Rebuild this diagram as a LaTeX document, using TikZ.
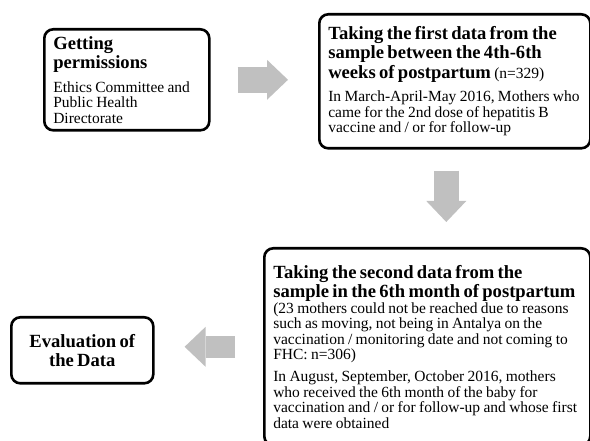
\documentclass[tikz,border=0pt]{standalone}
\usepackage{fontspec}
\setmainfont{Liberation Serif}
\usetikzlibrary{arrows.meta,positioning}

\definecolor{arrowgray}{RGB}{192,192,192}
\newcommand\headfont{\fontsize{18.6}{19.4}\selectfont\bfseries}
\newcommand\bodyfont{\fontsize{15.5}{15.6}\selectfont}

\begin{document}
\begin{tikzpicture}[x=1pt,y=1pt,
  stepbox/.style={draw,line width=2.6pt,rounded corners=9pt,anchor=north west,
    align=left,inner xsep=9pt,inner ysep=0pt},
  fatarrow/.style={draw=arrowgray,line width=25pt,
    -{Triangle[length=21pt,width=40pt,line width=0pt]}}]

\useasboundingbox (0,0) rectangle (590,441);

% Genehmigungen
\node[stepbox,text width=147pt,minimum height=101pt] (perm) at (43,413)
  {{\headfont Getting\\permissions\par}\vspace{8pt}%
   {\bodyfont Ethics Committee and\\Public Health\\Directorate\par}};

% erste Datenerhebung
\node[stepbox,text width=253pt,minimum height=134pt] (first) at (318,428)
  {{\headfont Taking the first data from the\\sample between the 4th-6th\\
    weeks of postpartum {\bodyfont\mdseries (n=329)}\par}\vspace{8pt}%
   {\bodyfont In March-April-May 2016, Mothers who\\came for the 2nd dose of hepatitis B\\
    vaccine and / or for follow-up\par}};

% zweite Datenerhebung
\node[stepbox,text width=308pt,minimum height=197pt] (second) at (263,194)
  {{\headfont Taking the second data from the\\sample in the 6th month of postpartum\par}%
   {\bodyfont (23 mothers could not be reached due to reasons\\such as moving, not being in Antalya on the\\
    vaccination / monitoring date and not coming to\\FHC: n=306)\par}\vspace{6pt}%
   {\bodyfont In August, September, October 2016, mothers\\who received the 6th month of the baby for\\
    vaccination and / or for follow-up and whose first\\data were obtained\par}};

% Auswertung
\node[stepbox,align=center,text width=124pt,minimum height=66pt] (eval) at (10,125)
  {{\headfont Evaluation of\\the Data\par}};

% Pfeile
\draw[fatarrow,line width=26pt,shorten <=27pt,shorten >=30pt]
  (perm.east) -- (perm.east -| first.west);
\draw[fatarrow,shorten <=21pt,shorten >=25pt]
  ([xshift=-8.5pt]first.south) -- ([xshift=-8.5pt]first.south |- second.north);
\draw[fatarrow,line width=22pt,shorten <=28pt,shorten >=30pt]
  (second.west) -- (second.west -| eval.east);

\end{tikzpicture}
\end{document}
